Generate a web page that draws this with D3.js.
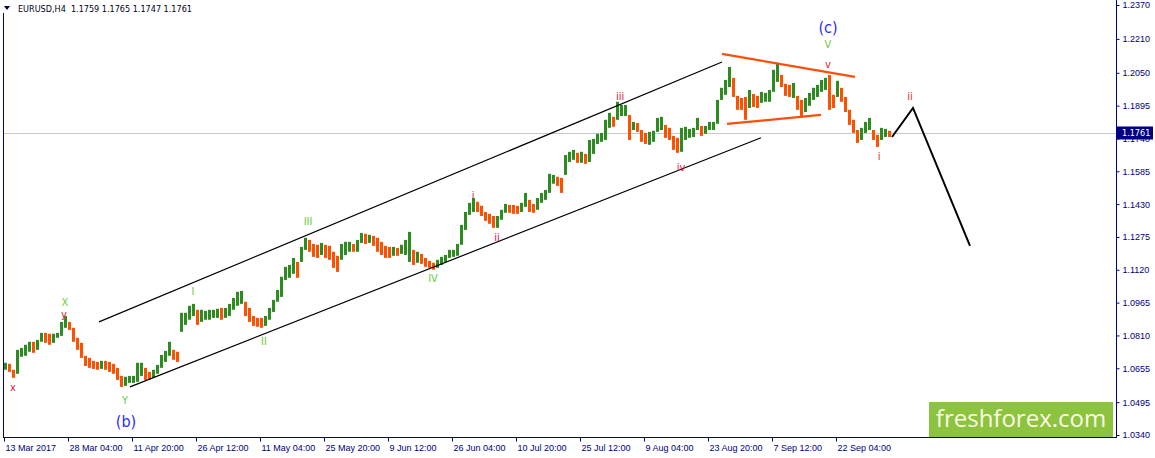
<!DOCTYPE html>
<html>
<head>
<meta charset="utf-8">
<script src="https://cdn.jsdelivr.net/npm/d3@7/dist/d3.min.js"></script>
<style>
  body { margin: 0; background: #fff; }
  svg { display: block; font-family: "DejaVu Sans Condensed", "DejaVu Sans", sans-serif; font-stretch: condensed; }
</style>
</head>
<body>
<svg id="chart" width="1155" height="458"></svg>
<script>
// H4 bars, grouped 4 bars per entry (high / low of the group)
const barsPerGroup = 4;
const groupHigh = [
  1.0681,1.0676,1.0648,1.0742,1.0751,1.0766,1.0780,1.0780,1.0789,1.0822,
  1.0822,1.0818,1.0818,1.0822,1.0874,1.0902,1.0874,1.0846,1.0799,1.0775,
  1.0714,1.0704,1.0690,1.0685,1.0690,1.0690,1.0685,1.0676,1.0657,1.0619,
  1.0615,1.0619,1.0619,1.0681,1.0681,1.0657,1.0638,1.0648,1.0671,1.0718,
  1.0737,1.0780,1.0742,1.0733,1.0917,1.0917,1.0950,1.0959,1.0931,1.0931,
  1.0926,1.0931,1.0931,1.0936,1.0940,1.0940,1.0959,1.0987,1.1016,1.1020,
  1.0969,1.0940,1.0902,1.0893,1.0893,1.0902,1.0940,1.0978,1.1025,1.1087,
  1.1134,1.1143,1.1176,1.1157,1.1228,1.1271,1.1261,1.1242,1.1238,1.1247,
  1.1238,1.1233,1.1205,1.1186,1.1242,1.1252,1.1252,1.1242,1.1261,1.1294,
  1.1290,1.1285,1.1280,1.1271,1.1252,1.1233,1.1228,1.1228,1.1223,1.1238,
  1.1261,1.1299,1.1214,1.1205,1.1195,1.1176,1.1162,1.1153,1.1167,1.1181,
  1.1190,1.1214,1.1214,1.1242,1.1332,1.1393,1.1436,1.1459,1.1441,1.1422,
  1.1393,1.1384,1.1374,1.1374,1.1403,1.1431,1.1426,1.1426,1.1422,1.1436,
  1.1483,1.1450,1.1431,1.1459,1.1483,1.1497,1.1573,1.1568,1.1559,1.1554,
  1.1662,1.1677,1.1686,1.1672,1.1677,1.1667,1.1733,1.1738,1.1762,1.1766,
  1.1828,1.1861,1.1842,1.1913,1.1898,1.1898,1.1851,1.1818,1.1813,1.1780,
  1.1766,1.1771,1.1776,1.1837,1.1842,1.1804,1.1790,1.1752,1.1743,1.1790,
  1.1795,1.1785,1.1790,1.1837,1.1799,1.1799,1.1818,1.1818,1.1922,1.1979,
  1.2016,1.2078,1.2026,1.1941,1.1931,1.1936,1.1969,1.1950,1.1941,1.1960,
  1.1955,1.1969,1.2064,1.2097,1.2040,1.1998,1.1993,1.2002,1.1941,1.1922,
  1.1931,1.1955,1.1979,1.1993,1.2016,1.2026,1.2040,1.1946,1.2012,1.1979,
  1.1936,1.1875,1.1828,1.1780,1.1790,1.1818,1.1837,1.1780,1.1757,1.1790,
  1.1785,1.1776
];
const groupLow = [
  1.0648,1.0638,1.0610,1.0629,1.0709,1.0714,1.0733,1.0728,1.0742,1.0780,
  1.0775,1.0766,1.0775,1.0799,1.0808,1.0846,1.0836,1.0780,1.0742,1.0704,
  1.0666,1.0657,1.0652,1.0648,1.0652,1.0648,1.0638,1.0629,1.0600,1.0567,
  1.0572,1.0586,1.0586,1.0591,1.0619,1.0600,1.0600,1.0610,1.0629,1.0657,
  1.0685,1.0714,1.0695,1.0685,1.0827,1.0860,1.0884,1.0902,1.0860,1.0874,
  1.0884,1.0884,1.0893,1.0893,1.0884,1.0893,1.0902,1.0931,1.0950,1.0959,
  1.0902,1.0874,1.0855,1.0851,1.0846,1.0855,1.0884,1.0921,1.0969,1.0992,
  1.1072,1.1082,1.1101,1.1082,1.1157,1.1214,1.1205,1.1181,1.1176,1.1190,
  1.1176,1.1167,1.1129,1.1110,1.1167,1.1190,1.1205,1.1205,1.1205,1.1247,
  1.1242,1.1247,1.1233,1.1205,1.1190,1.1176,1.1176,1.1186,1.1186,1.1195,
  1.1190,1.1157,1.1143,1.1153,1.1148,1.1134,1.1129,1.1120,1.1129,1.1143,
  1.1157,1.1176,1.1181,1.1186,1.1238,1.1308,1.1379,1.1393,1.1393,1.1374,
  1.1351,1.1337,1.1318,1.1318,1.1356,1.1389,1.1389,1.1384,1.1384,1.1393,
  1.1417,1.1393,1.1389,1.1403,1.1436,1.1450,1.1483,1.1526,1.1516,1.1483,
  1.1568,1.1629,1.1639,1.1625,1.1625,1.1620,1.1629,1.1667,1.1714,1.1724,
  1.1733,1.1790,1.1795,1.1828,1.1846,1.1846,1.1733,1.1780,1.1771,1.1724,
  1.1714,1.1710,1.1724,1.1771,1.1780,1.1743,1.1733,1.1686,1.1672,1.1677,
  1.1733,1.1743,1.1747,1.1780,1.1752,1.1762,1.1780,1.1780,1.1809,1.1922,
  1.1946,1.1983,1.1936,1.1875,1.1875,1.1828,1.1884,1.1889,1.1884,1.1908,
  1.1913,1.1913,1.1960,1.2007,1.1983,1.1941,1.1936,1.1931,1.1875,1.1846,
  1.1865,1.1894,1.1922,1.1936,1.1960,1.1969,1.1875,1.1884,1.1936,1.1913,
  1.1865,1.1804,1.1766,1.1719,1.1733,1.1766,1.1780,1.1733,1.1700,1.1733,
  1.1747,1.1747
];

const symbolText = "EURUSD,H4  1.1759 1.1765 1.1747 1.1761";
const lastPrice = 1.1761;

const priceTicks = [1.2370, 1.2210, 1.2050, 1.1895, 1.1740, 1.1585, 1.1430,
                    1.1275, 1.1120, 1.0965, 1.0810, 1.0655, 1.0495, 1.0340];
const timeStep = 64; // bars between time labels
const timeLabels = ["13 Mar 2017", "28 Mar 04:00", "11 Apr 20:00", "26 Apr 12:00",
  "11 May 04:00", "25 May 20:00", "9 Jun 12:00", "26 Jun 04:00", "10 Jul 20:00",
  "25 Jul 12:00", "9 Aug 04:00", "23 Aug 20:00", "7 Sep 12:00", "22 Sep 04:00"];

// drawn objects, in bar index / price
const channelUpper = [[95, 1.0874], [718, 1.2101]];
const channelLower = [[126, 1.0567], [757, 1.1743]];
const triangleUpper = [[718, 1.2139], [851, 1.2031]];
const triangleLower = [[723, 1.1809], [817, 1.1851]];
const forecastPath = [[888, 1.1747], [909, 1.1884], [966, 1.1233]];

const waveText  = ["x", "X", "y", "Y", "(b)", "I", "II", "III", "IV", "i", "ii", "iii", "iv", "v", "V", "(c)", "ii", "i"];
const waveBar   = [9, 61, 60, 121, 122, 189, 260, 304, 429, 469, 493, 616, 677, 824, 824, 824, 906, 875];
const wavePrice = [1.0563, 1.0964, 1.0907, 1.0501, 1.0402, 1.1016, 1.0780, 1.1346, 1.1077,
                   1.1473, 1.1271, 1.1936, 1.1605, 1.2087, 1.2182, 1.2262, 1.1936, 1.1653];
const waveDegree = ["red", "green", "red", "green", "blue", "green", "green", "green", "green",
                    "red", "red", "red", "red", "red", "green", "blue", "late", "late"];

const degreeColor = { red: "#e0143c", green: "#6acd3a", blue: "#2b2bff", late: "#d2301a" };
const upColor = "#2e8b22", downColor = "#ff5000", axisColor = "#000080";

const W = 1155, H = 458;
const plot = { left: 3, right: 1116, top: 0, bottom: 437 };

const svg = d3.select("#chart");

const x = d3.scaleLinear().domain([0, 1112]).range([4, 1116]);
const y = d3.scaleLinear().domain([1.0340, 1.2370]).range([435, 5]);

// current price line
svg.append("line")
  .attr("x1", plot.left).attr("x2", plot.right)
  .attr("y1", Math.round(y(lastPrice)) - 0.5).attr("y2", Math.round(y(lastPrice)) - 0.5)
  .attr("stroke", "#c8c8c8").attr("stroke-width", 1);

// bars
const groups = groupHigh.map((h, i) => ({ i, hi: h, lo: groupLow[i], mid: (h + groupLow[i]) / 2 }));
svg.append("g").attr("id", "bars")
  .selectAll("line")
  .data(groups)
  .enter()
  .append("line")
  .attr("x1", d => x(d.i * barsPerGroup + 1.5))
  .attr("x2", d => x(d.i * barsPerGroup + 1.5))
  .attr("y1", d => y(d.hi))
  .attr("y2", d => y(d.lo))
  .attr("stroke", (d, i) => (i === 0 || d.mid >= groups[i - 1].mid) ? upColor : downColor)
  .attr("stroke-width", 3);

// channel, triangle, forecast
const line = d3.line().x(d => x(d[0])).y(d => y(d[1]));
const drawn = svg.append("g").attr("id", "objects").attr("fill", "none");
drawn.append("path").attr("d", line(channelUpper)).attr("stroke", "#000").attr("stroke-width", 1.2);
drawn.append("path").attr("d", line(channelLower)).attr("stroke", "#000").attr("stroke-width", 1.2);
drawn.append("path").attr("d", line(triangleUpper)).attr("stroke", "#ff4f0a").attr("stroke-width", 2.2);
drawn.append("path").attr("d", line(triangleLower)).attr("stroke", "#ff4f0a").attr("stroke-width", 2.2);
drawn.append("path").attr("d", line(forecastPath)).attr("stroke", "#000").attr("stroke-width", 2);

// wave labels
svg.append("g").attr("id", "waves")
  .selectAll("text")
  .data(waveText)
  .enter()
  .append("text")
  .attr("x", (d, i) => x(waveBar[i]))
  .attr("y", (d, i) => y(wavePrice[i]))
  .attr("text-anchor", "middle")
  .attr("dominant-baseline", "central")
  .attr("font-size", (d, i) => waveDegree[i] === "blue" ? 16 : 11)
  .attr("fill", (d, i) => degreeColor[waveDegree[i]])
  .text(d => d);

// logo
svg.append("rect")
  .attr("x", 929).attr("y", 402).attr("width", 184).attr("height", 35)
  .attr("fill", "#8cc43f");
svg.append("text")
  .attr("x", 1021).attr("y", 427)
  .attr("text-anchor", "middle")
  .attr("font-family", "'Open Sans', 'Noto Sans', sans-serif")
  .attr("font-stretch", "normal")
  .attr("font-size", 24)
  .attr("fill", "#fbf8e4")
  .text("freshforex.com");

// frame
svg.append("line").attr("x1", plot.left + 0.5).attr("x2", plot.left + 0.5)
  .attr("y1", 13).attr("y2", plot.bottom).attr("stroke", axisColor);
svg.append("line").attr("x1", plot.right + 0.5).attr("x2", plot.right + 0.5)
  .attr("y1", 0).attr("y2", plot.bottom + 0.5).attr("stroke", axisColor);
svg.append("line").attr("x1", plot.left).attr("x2", plot.right + 1)
  .attr("y1", plot.bottom + 0.5).attr("y2", plot.bottom + 0.5).attr("stroke", axisColor);

// price axis
const yAxis = svg.append("g")
  .attr("transform", `translate(${plot.right + 0.5},0)`)
  .call(d3.axisRight(y).tickValues(priceTicks).tickSize(3).tickPadding(3).tickFormat(d3.format(".4f")));
yAxis.select(".domain").remove();
yAxis.selectAll("line").attr("stroke", axisColor);
yAxis.selectAll("text").attr("fill", axisColor).attr("font-size", 9).attr("font-family", null);

// time axis
const xAxis = svg.append("g")
  .attr("transform", `translate(0,${plot.bottom + 0.5})`)
  .call(d3.axisBottom(x).tickValues(timeLabels.map((d, i) => i * timeStep)).tickSize(4).tickPadding(3)
    .tickFormat((d, i) => timeLabels[i]));
xAxis.select(".domain").remove();
xAxis.selectAll("line").attr("stroke", axisColor);
xAxis.selectAll("text").attr("fill", axisColor).attr("font-size", 9).attr("font-family", null)
  .attr("text-anchor", "start").attr("dx", 1);

// last price marker
const py = Math.round(y(lastPrice)) - 1;
svg.append("rect")
  .attr("x", plot.right + 1).attr("y", py - 6.5).attr("width", 36).attr("height", 13)
  .attr("fill", axisColor);
svg.append("text")
  .attr("x", plot.right + 6).attr("y", py).attr("dominant-baseline", "central")
  .attr("font-size", 9).attr("fill", "#fff")
  .text(d3.format(".4f")(lastPrice));

// header
svg.append("path").attr("d", "M4,6 L10,6 L7,10 Z").attr("fill", "#000040");
svg.append("text")
  .attr("x", 18).attr("y", 12)
  .attr("font-size", 9)
  .attr("fill", "#000020")
  .style("white-space", "pre")
  .text(symbolText);
</script>
</body>
</html>
